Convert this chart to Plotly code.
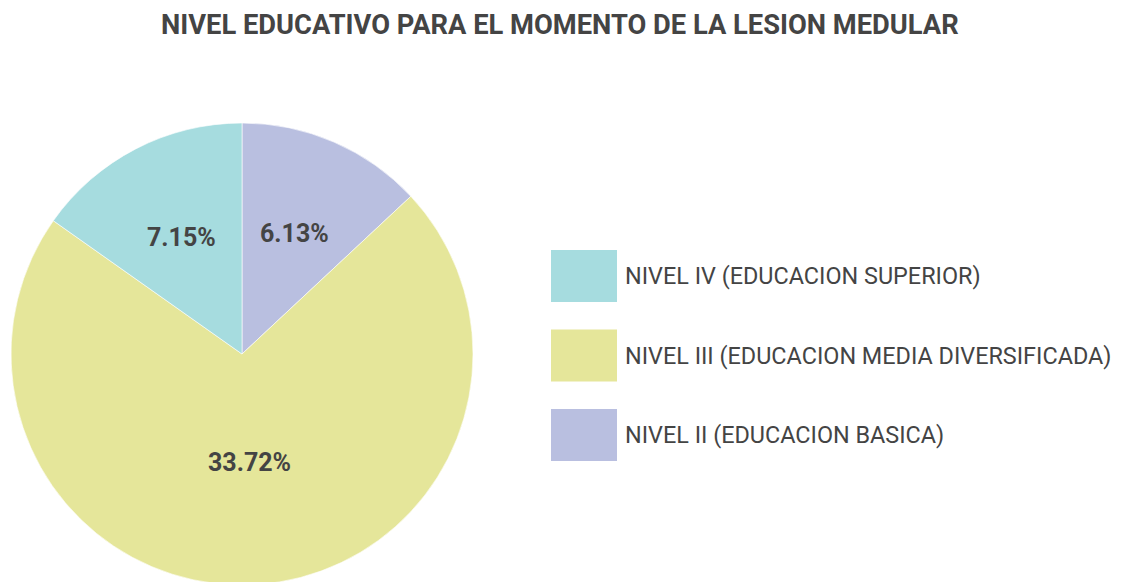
import math
import plotly.graph_objects as go

labels = ["NIVEL II (EDUCACION BASICA)", "NIVEL III (EDUCACION MEDIA DIVERSIFICADA)", "NIVEL IV (EDUCACION SUPERIOR)"]
values = [6.13, 33.72, 7.15]
colors = ["#b9bfe0", "#e5e69a", "#a6dcdf"]
legend_order = [2, 1, 0]
title = "NIVEL EDUCATIVO PARA EL MOMENTO DE LA LESION MEDULAR"
label_radius = [0.57, 0.47, 0.57]  # fraction of pie radius where value labels sit

W, H = 1125, 582
off = 8  # page body margin
cx, cy, r = 242 - off, 354 - off, 231

fig = go.Figure(go.Pie(
    labels=labels, values=values, sort=False, direction="clockwise", rotation=0,
    marker=dict(colors=colors, line=dict(color="rgba(255,255,255,0.6)", width=1)),
    textinfo="none",
    domain=dict(x=[(cx - r) / W, (cx + r) / W], y=[(H - cy - r) / H, (H - cy + r) / H]),
    showlegend=False, hoverinfo="label+value",
))

shapes, annos = [], []
total = sum(values)
acc = 0.0
for v, fr in zip(values, label_radius):
    mid = (acc + v / 2) / total * 2 * math.pi
    acc += v
    lx = cx + fr * r * math.sin(mid)
    ly = cy - fr * r * math.cos(mid)
    annos.append(dict(text="<b>%.2f%%</b>" % v, xref="paper", yref="paper", x=lx / W, y=1 - ly / H,
                      xanchor="center", yanchor="middle", showarrow=False,
                      font=dict(family="Roboto", size=25, color="#444444")))

for k, i in enumerate(legend_order):
    y0 = 250 - off + k * 79.5
    shapes.append(dict(type="rect", xref="paper", yref="paper", x0=(551 - off) / W, x1=(617 - off) / W,
                       y0=1 - (y0 + 52) / H, y1=1 - y0 / H, fillcolor=colors[i], line=dict(width=0)))
    annos.append(dict(text=labels[i], xref="paper", yref="paper", x=(623 - off) / W, y=1 - (y0 + 26) / H,
                      xanchor="left", yanchor="middle", showarrow=False,
                      font=dict(family="Roboto", size=23.4, color="#444444")))
annos.append(dict(text="<b>" + title + "</b>", xref="paper", yref="paper", x=(559.5 - off) / W,
                  y=1, xanchor="center", yanchor="top", showarrow=False, borderpad=0,
                  font=dict(family="Roboto", size=27.3, color="#444444")))

fig.update_layout(width=W, height=H, margin=dict(l=0, r=0, t=0, b=0),
                  paper_bgcolor="white", plot_bgcolor="white", shapes=shapes, annotations=annos)
fig.write_html("out.html")
